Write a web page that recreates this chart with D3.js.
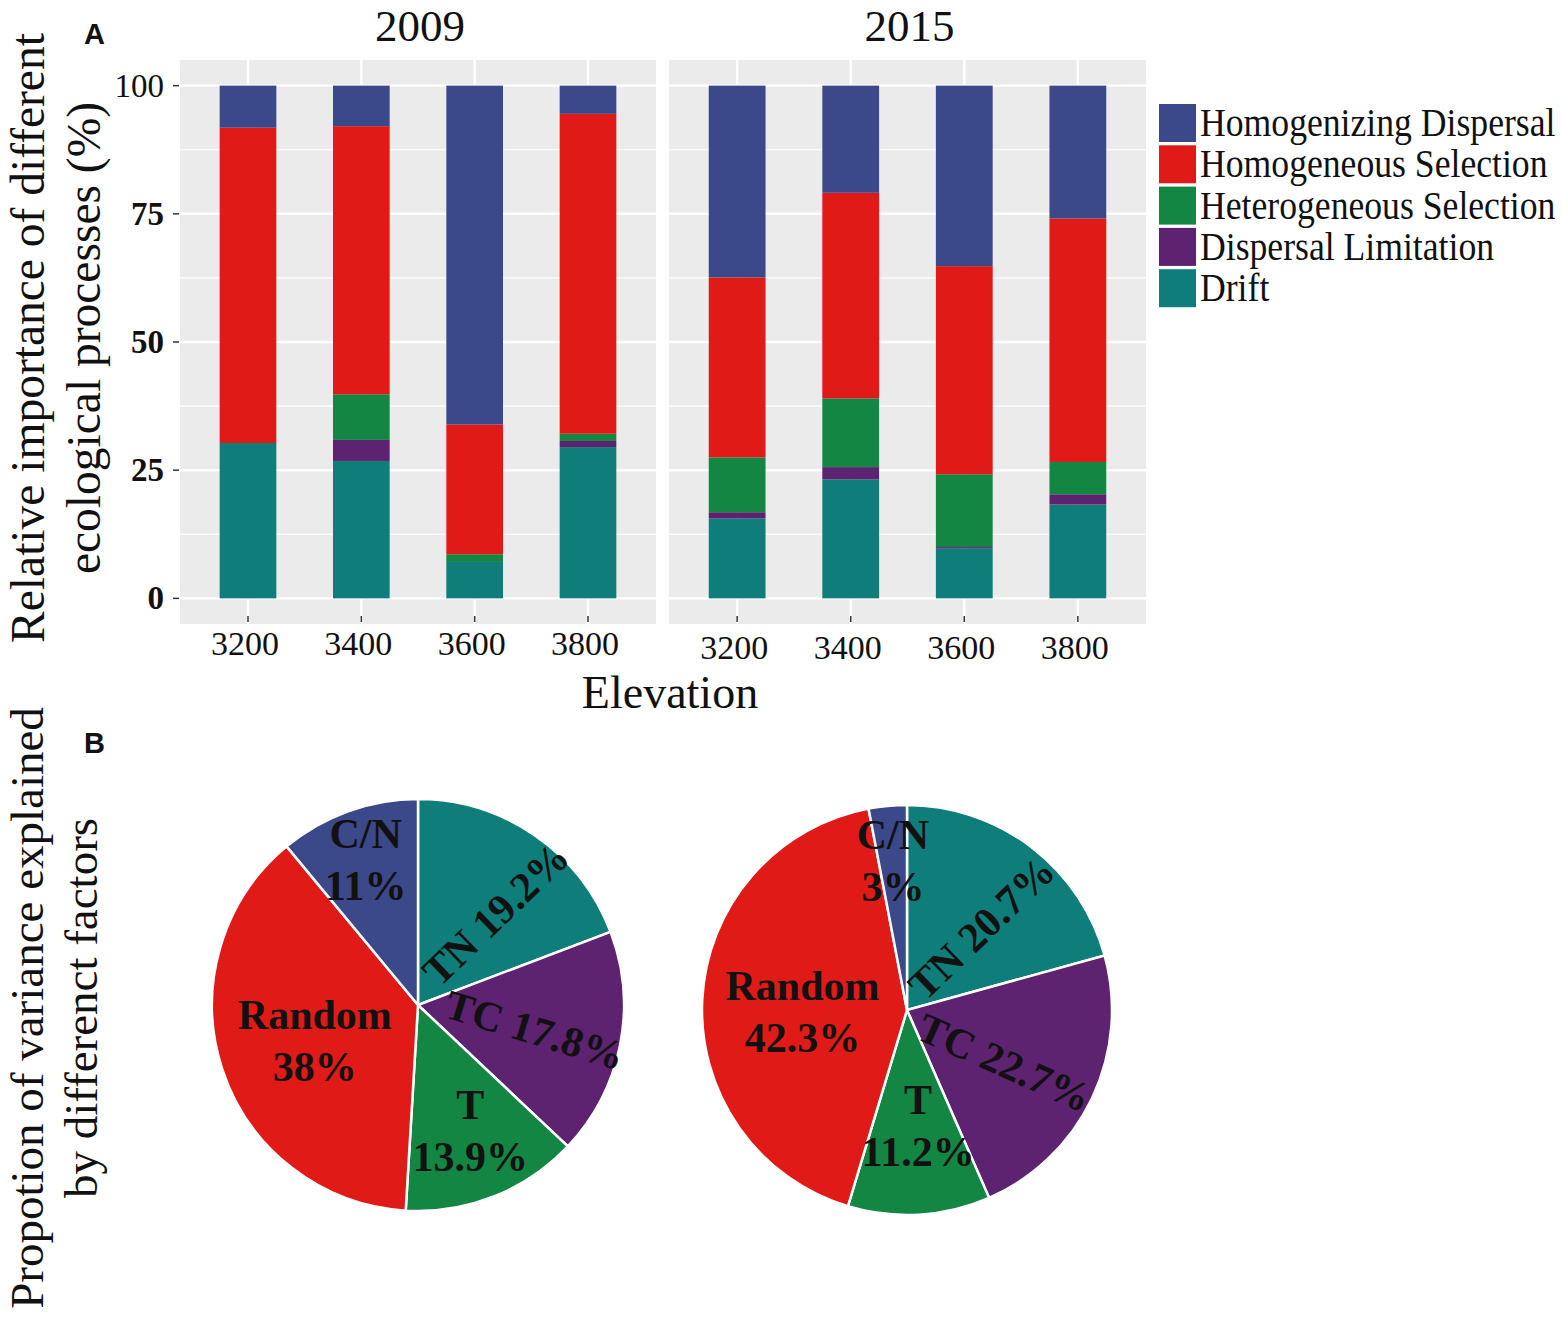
<!DOCTYPE html>
<html>
<head>
<meta charset="UTF-8">
<script src="https://cdn.jsdelivr.net/npm/d3@7/dist/d3.min.js"></script>
<style>
    body { margin: 0; background: #fff; }
    svg text { font-family: "Liberation Serif", "Times New Roman", serif; fill: #111; }
    .tag { font-family: "Liberation Sans", Arial, sans-serif; font-weight: bold; }
</style>
</head>
<body>
<svg id="chart" width="1562" height="1317"></svg>
<script>
// --- data ---
const processes = ["Homogenizing Dispersal", "Homogeneous Selection", "Heterogeneous Selection", "Dispersal Limitation", "Drift"];
const elevations = ["3200", "3400", "3600", "3800"];
const years = ["2009", "2015"];

// per year, one value per elevation (%)
const homDisp2009 = [8.2, 7.9, 66.1, 5.5];
const homSel2009  = [61.5, 52.3, 25.3, 62.4];
const hetSel2009  = [0, 8.9, 1.5, 1.4];
const dispLim2009 = [0, 4.1, 0, 1.2];
const drift2009   = [30.3, 26.8, 7.1, 29.5];

const homDisp2015 = [37.4, 20.9, 35.2, 25.9];
const homSel2015  = [35.1, 40.1, 40.6, 47.5];
const hetSel2015  = [10.7, 13.4, 14.2, 6.3];
const dispLim2015 = [1.2, 2.4, 0.3, 2.0];
const drift2015   = [15.6, 23.2, 9.7, 18.3];

const yTicks = [0, 25, 50, 75, 100];

// pie B (clockwise from 12 o'clock)
const factors = ["TN", "TC", "T", "Random", "C/N"];
const variance2009 = [19.2, 17.8, 13.9, 38, 11];
const variance2015 = [20.7, 22.7, 11.2, 42.3, 3];

const colors = {
    "Homogenizing Dispersal": "#3b4889",
    "Homogeneous Selection": "#e01a17",
    "Heterogeneous Selection": "#148643",
    "Dispersal Limitation": "#5d2270",
    "Drift": "#0f7e7a"
};
const factorColors = { "TN": "#0f7e7a", "TC": "#5d2270", "T": "#148643", "Random": "#e01a17", "C/N": "#3b4889" };

const svg = d3.select("#chart");

// --- panel A ---
const plotTop = 60, plotBottom = 624;
const panels = [{ year: "2009", left: 180, right: 656, labelDy: 0 },
                { year: "2015", left: 669, right: 1146, labelDy: 4 }];
const byYear = {
    "2009": [homDisp2009, homSel2009, hetSel2009, dispLim2009, drift2009],
    "2015": [homDisp2015, homSel2015, hetSel2015, dispLim2015, drift2015]
};

const y = d3.scaleLinear().domain([-5, 105]).range([plotBottom, plotTop]);
const minorTicks = [12.5, 37.5, 62.5, 87.5];

panels.forEach((p, pi) => {
    const rows = elevations.map((e, i) => {
        const r = { elevation: e };
        processes.forEach((k, j) => r[k] = byYear[p.year][j][i]);
        return r;
    });
    const x = d3.scaleBand().domain(elevations).range([p.left, p.right])
        .paddingInner(0.5).paddingOuter(0.35);

    const g = svg.append("g");
    g.append("rect").attr("x", p.left).attr("y", plotTop)
        .attr("width", p.right - p.left).attr("height", plotBottom - plotTop).attr("fill", "#ebebeb");

    g.selectAll(".minor").data(minorTicks).join("line")
        .attr("x1", p.left).attr("x2", p.right)
        .attr("y1", d => y(d)).attr("y2", d => y(d))
        .attr("stroke", "#fff").attr("stroke-width", 1.2);
    g.selectAll(".major").data(yTicks).join("line")
        .attr("x1", p.left).attr("x2", p.right)
        .attr("y1", d => y(d)).attr("y2", d => y(d))
        .attr("stroke", "#fff").attr("stroke-width", 2.4);
    g.selectAll(".vgrid").data(elevations).join("line")
        .attr("x1", d => x(d) + x.bandwidth() / 2).attr("x2", d => x(d) + x.bandwidth() / 2)
        .attr("y1", plotTop).attr("y2", plotBottom)
        .attr("stroke", "#fff").attr("stroke-width", 2.4);

    // stack from the bottom: Drift first
    const stack = d3.stack().keys(processes.slice().reverse())(rows);
    g.selectAll(".layer").data(stack).join("g")
        .attr("fill", d => colors[d.key])
        .selectAll("rect").data(d => d).join("rect")
        .attr("x", d => x(d.data.elevation))
        .attr("width", x.bandwidth())
        .attr("y", d => y(d[1]))
        .attr("height", d => y(d[0]) - y(d[1]));

    // x ticks + labels
    g.selectAll(".xt").data(elevations).join("line")
        .attr("x1", d => x(d) + x.bandwidth() / 2).attr("x2", d => x(d) + x.bandwidth() / 2)
        .attr("y1", plotBottom - 8).attr("y2", plotBottom - 2)
        .attr("stroke", "#333").attr("stroke-width", 1.5);
    g.selectAll(".xl").data(elevations).join("text")
        .attr("x", d => x(d) + x.bandwidth() / 2 - 3)
        .attr("y", 655 + p.labelDy)
        .attr("text-anchor", "middle").attr("font-size", 34)
        .text(d => d);

    // strip title
    g.append("text").attr("x", (p.left + p.right) / 2 + 2).attr("y", 41)
        .attr("text-anchor", "middle").attr("font-size", 45).text(p.year);

    if (pi === 0) {
        const ya = g.append("g");
        ya.selectAll("line").data(yTicks).join("line")
            .attr("x1", p.left - 7).attr("x2", p.left - 1)
            .attr("y1", d => y(d)).attr("y2", d => y(d))
            .attr("stroke", "#333").attr("stroke-width", 1.5);
        ya.selectAll("text").data(yTicks).join("text")
            .attr("x", p.left - 16).attr("y", d => y(d) + 11)
            .attr("text-anchor", "end").attr("font-size", 33)
            .attr("font-weight", d => d === 100 ? "normal" : "bold")
            .text(d => d);
    }
});

// axis titles
svg.append("text").attr("x", 670).attr("y", 708).attr("text-anchor", "middle")
    .attr("font-size", 46).text("Elevation");
const yTitle = svg.append("g").attr("transform", "translate(0,338) rotate(-90)");
yTitle.append("text").attr("x", 0).attr("y", 44).attr("text-anchor", "middle")
    .attr("font-size", 47.5).text("Relative importance of different");
yTitle.append("text").attr("x", 0).attr("y", 100).attr("text-anchor", "middle")
    .attr("font-size", 47.5).text("ecological processes (%)");

svg.append("text").attr("class", "tag").attr("x", 84).attr("y", 44)
    .attr("font-size", 29).text("A");
svg.append("text").attr("class", "tag").attr("x", 84).attr("y", 753)
    .attr("font-size", 29).text("B");

// legend
const legend = svg.append("g").attr("transform", "translate(1159,104)");
const lg = legend.selectAll("g").data(processes).join("g")
    .attr("transform", (d, i) => `translate(0,${i * 41.3})`);
lg.append("rect").attr("width", 37).attr("height", 38).attr("fill", d => colors[d]);
lg.append("text").attr("transform", "translate(41,32) scale(0.87,1)")
    .attr("font-size", 41).text(d => d);

// --- panel B ---
const pieTitle = svg.append("g").attr("transform", "translate(0,1008) rotate(-90)");
pieTitle.append("text").attr("x", 0).attr("y", 43).attr("text-anchor", "middle")
    .attr("font-size", 47).text("Propotion of variance explained");
pieTitle.append("text").attr("x", 0).attr("y", 97).attr("text-anchor", "middle")
    .attr("font-size", 47).text("by differenct factors");

const pies = [
    { values: variance2009, cx: 418, cy: 1005, r: 206,
      labelR: [0.58, 0.58, 0.66, 0.53, 0.75], shift: [6, 1, -1, -1, 0], rot: [-44, 17, 0, 0, 0] },
    { values: variance2015, cx: 907, cy: 1010, r: 205,
      labelR: [0.54, 0.54, 0.57, 0.51, 0.73], shift: [5, 3, -2, -4, 0], rot: [-44, 24, 0, 0, 0] }
];
const pie = d3.pie().sort(null).value(d => d);

pies.forEach(p => {
    const arcs = pie(p.values);
    const arc = d3.arc().innerRadius(0).outerRadius(p.r);
    const g = svg.append("g").attr("transform", `translate(${p.cx},${p.cy})`);
    g.selectAll("path").data(arcs).join("path")
        .attr("d", arc)
        .attr("fill", (d, i) => factorColors[factors[i]])
        .attr("stroke", "#fff").attr("stroke-width", 2.5);

    arcs.forEach((a, i) => {
        const ang = (a.startAngle + a.endAngle) / 2 + p.shift[i] * Math.PI / 180;
        const rr = p.r * p.labelR[i];
        const lx = rr * Math.sin(ang), ly = -rr * Math.cos(ang);
        const label = g.append("text")
            .attr("transform", `translate(${lx},${ly}) rotate(${p.rot[i]})`)
            .attr("text-anchor", "middle").attr("font-size", 42).attr("font-weight", "bold")
            .attr("fill", "#1a1a1a");
        const pct = p.values[i] + "%";
        if (p.rot[i] !== 0) {
            label.append("tspan").attr("x", 0).attr("y", 14).text(factors[i] + " " + pct);
        } else {
            label.append("tspan").attr("x", 0).attr("y", -12).text(factors[i]);
            label.append("tspan").attr("x", 0).attr("y", 40).text(pct);
        }
    });
});
</script>
</body>
</html>
